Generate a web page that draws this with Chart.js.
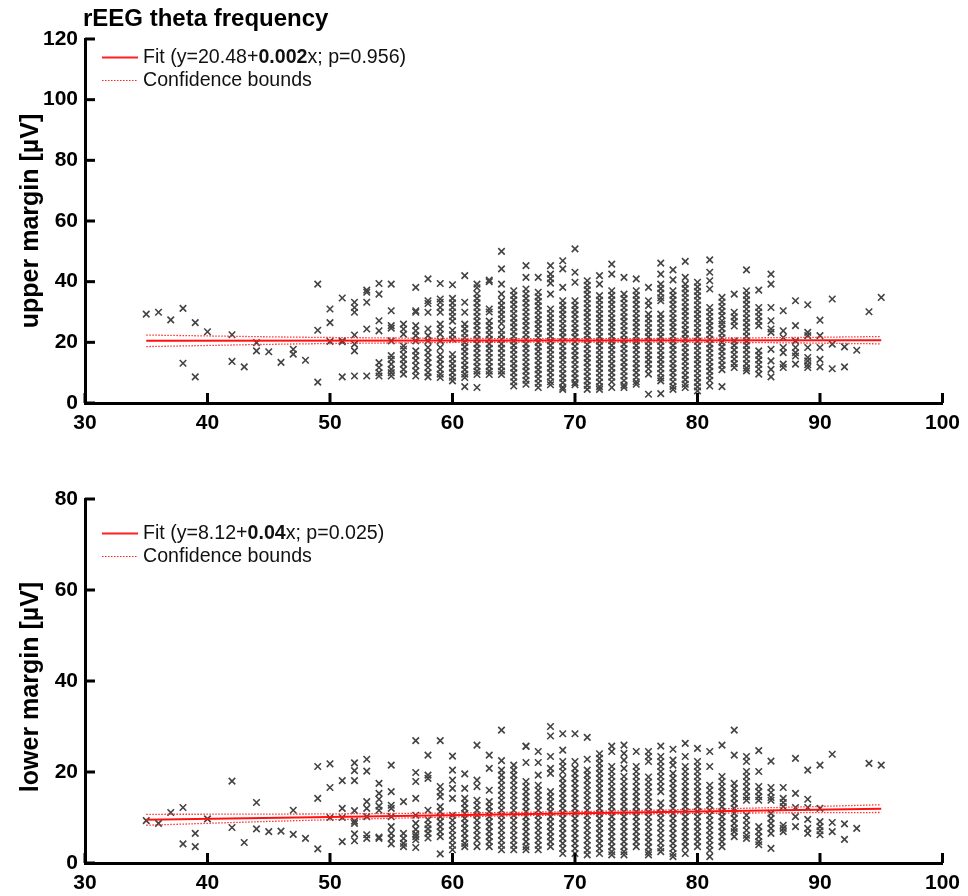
<!DOCTYPE html>
<html>
<head>
<meta charset="utf-8">
<script src="https://cdn.jsdelivr.net/npm/chart.js@4.4.1/dist/chart.umd.min.js"></script>
<style>
  html, body { margin: 0; padding: 0; background: #fff; }
  #wrap { position: relative; width: 968px; height: 896px; }
  canvas { position: absolute; left: 0; }
  #upperChart { top: 0; }
  #lowerChart { top: 440px; }
</style>
</head>
<body>
<div id="wrap">
  <canvas id="upperChart" width="968" height="440"></canvas>
  <canvas id="lowerChart" width="968" height="456"></canvas>
</div>
<script>
// ages on the x axis (one column of markers per age)
const ages = [35, 36, 37, 38, 39, 40, 41, 42, 43, 44, 45, 46, 47, 48, 49, 50, 51, 52, 53, 54,
  55, 56, 57, 58, 59, 60, 61, 62, 63, 64, 65, 66, 67, 68, 69, 70, 71, 72, 73, 74,
  75, 76, 77, 78, 79, 80, 81, 82, 83, 84, 85, 86, 87, 88, 89, 90, 91, 92, 93, 94, 95];

// upper margin [µV], one list per age
const upperMargin = [
  [29.3], [29.9], [27.4], [31.2, 13.1], [26.5, 8.6], [23.5], [], [22.5, 13.7], [11.9], [19.9, 17.2],
  [16.9], [13.4], [17.7, 16.1], [14.1], [39.2, 24, 6.9], [31, 26.5, 20.3], [34.6, 20.5, 20.2, 8.6],
  [33.2, 31.5, 29.9, 22.4, 19.4, 17.2, 8.9],
  [37.2, 36.5, 33.2, 24.4, 8.9],
  [39.4, 35.9, 27.1, 23.8, 13.3, 11.7, 10, 8.9],
  [39.2, 30.4, 25.5, 24.7, 20.5, 15.6, 14.4, 12.8, 11.1, 10, 8.9],
  [26, 24.4, 22.7, 18.8, 17.7, 16, 14.4, 12.8, 11.1, 9.5],
  [38.1, 30.4, 29.9, 25.5, 23.8, 22.2, 20.5, 17.2, 15.6, 14, 12.3, 10.6, 8.9],
  [40.9, 33.7, 32.8, 29.9, 24.4, 22.2, 20.5, 18.3, 16.6, 14.9, 13.3, 11.7, 10, 8.6],
  [39.4, 34.3, 33.2, 31.5, 29.9, 26, 24.4, 22.7, 20.5, 18.3, 16, 14.4, 12.8, 11.1, 9.5, 8.4],
  [39, 34.5, 33, 31.5, 30, 28.5, 27, 24, 22.5, 21, 16, 14.5, 13, 11.5, 10, 8.5, 7.3],
  [42, 33.2, 29.9, 26, 24.5, 23, 21.5, 20, 18.5, 17, 15.5, 14, 12.5, 11, 9.5, 8.4, 5.4],
  [39.2, 38, 36, 34.5, 33, 31.5, 30, 28.5, 27, 25.5, 24, 22.5, 21, 19.5, 18, 16.5, 15, 13.5, 12, 10.5, 9.4, 5.1],
  [40.5, 40, 31, 30, 27, 25.5, 24, 22.5, 21, 19.5, 18, 16.5, 15, 13.5, 12, 10.5, 9.4],
  [50, 44.2, 39.2, 35.9, 33.7, 32.2, 30.7, 29.2, 27.7, 26.2, 24, 22.5, 21, 19.5, 18, 16.5, 15, 13.5, 12, 10.5, 9.4],
  [37, 35.5, 34, 32.5, 31, 29.5, 28, 26.5, 25, 23.5, 22, 20.5, 19, 17.5, 16, 14.5, 13, 11.5, 10, 8.5, 7, 5.6],
  [45.3, 41.4, 37.6, 36, 34.5, 33, 31.5, 30, 28.5, 27, 25.5, 24, 22.5, 21, 19.5, 18, 16.5, 15, 13.5, 12, 10.5, 9, 7.5, 6.2],
  [41.4, 36.5, 35, 33.5, 32, 30.5, 29, 27.5, 26, 24.5, 23, 21.5, 20, 18.5, 17, 15.5, 14, 12.5, 11, 9.5, 8, 6.5, 5.1],
  [45.3, 42.5, 41, 39.5, 35.9, 31, 29.5, 28, 26.5, 25, 23.5, 22, 20.5, 19, 17.5, 16, 14.5, 13, 11.5, 10, 8.5, 7, 6],
  [46.9, 44.2, 38.1, 33.7, 32.2, 30.7, 29.2, 27.7, 26.2, 24.7, 23.2, 21.7, 20.2, 18.7, 17.2, 15.7, 14.2, 12.7, 11.2, 9.7, 8.2, 6.7, 5.2, 4.5],
  [50.8, 43.1, 39.8, 33.7, 32.2, 30.7, 29.2, 27.7, 26.2, 24.7, 23.2, 21.7, 20.2, 18.7, 17.2, 15.7, 14.2, 12.7, 11.2, 9.7, 8.2, 6.7, 6],
  [40.3, 38.8, 37.3, 35.8, 34.3, 32.8, 31.3, 29.8, 28.3, 26.8, 25.3, 23.8, 22.3, 20.8, 19.3, 17.8, 16.3, 14.8, 13.3, 11.8, 10.3, 8.8, 7.3, 5.8, 4.5],
  [42, 39.2, 35.4, 33.9, 32.4, 30.9, 29.4, 27.9, 26.4, 24.9, 23.4, 21.9, 20.4, 18.9, 17.4, 15.9, 14.4, 12.9, 11.4, 9.9, 8.4, 6.9, 5.4, 4.5],
  [45.8, 42.5, 37, 35.5, 34, 32.5, 31, 29.5, 28, 26.5, 25, 23.5, 22, 20.5, 19, 17.5, 16, 14.5, 13, 11.5, 10, 8.5, 7, 5.1],
  [41.4, 35.9, 34.4, 32.9, 31.4, 29.9, 28.4, 26.9, 25.4, 23.9, 22.4, 20.9, 19.4, 17.9, 16.4, 14.9, 13.4, 11.9, 10.4, 8.9, 7.4, 5.9, 5.1],
  [40.9, 37, 35.5, 34, 32.5, 31, 29.5, 28, 26.5, 25, 23.5, 22, 20.5, 19, 17.5, 16, 14.5, 13, 11.5, 10, 8.5, 7, 6.2],
  [38.1, 33.7, 32.1, 29.3, 27.8, 26.3, 24.8, 23.3, 21.8, 20.3, 18.8, 17.3, 15.8, 14.3, 12.8, 11.3, 9.5, 2.9],
  [46.1, 42.5, 39.2, 37.7, 36.2, 34.7, 33.7, 29.3, 27.8, 26.3, 24.8, 23.3, 21.8, 20.3, 18.8, 17.3, 15.8, 14.3, 12.8, 11.3, 9.8, 8.3, 7.3, 3.1],
  [43.9, 40.6, 37, 35.5, 34, 32.5, 31, 29.5, 28, 26.5, 25, 23.5, 22, 20.5, 19, 17.5, 16, 14.5, 13, 11.5, 10, 8.5, 7, 5.5, 4.5],
  [46.7, 41.4, 39.2, 37.7, 36.2, 34.7, 33.2, 31.7, 30.2, 28.7, 27.2, 25.7, 24.2, 22.7, 21.2, 19.7, 18.2, 16.7, 15.2, 13.7, 12.2, 10.7, 9.2, 7.7, 6.2, 5.1],
  [39.8, 38.3, 36.8, 35.3, 33.8, 32.3, 30.8, 29.3, 27.8, 26.3, 24.8, 23.3, 21.8, 20.3, 18.8, 17.3, 15.8, 14.3, 12.8, 11.3, 9.8, 8.3, 6.8, 5.3, 4],
  [47.2, 43.1, 40.3, 37.6, 31.5, 30, 28.5, 27, 25.5, 24, 22.5, 21, 19.5, 18, 16.5, 15, 13.5, 12, 10.5, 9, 7.5, 5.6],
  [34.8, 33.3, 31.8, 30.3, 28.8, 27.1, 26, 24.5, 23, 21.5, 20, 18.5, 17, 15.5, 14, 12.5, 11, 5.4],
  [35.9, 29.9, 28.4, 26.9, 25.4, 20.5, 19, 17.5, 16, 14.5, 13, 11.7],
  [43.9, 37, 35.5, 34, 32.5, 31, 29.5, 28, 26.5, 25, 23.5, 22, 20.5, 19, 17.5, 16, 14.5, 13, 11.5, 10.6],
  [37.2, 31.5, 30, 28.5, 27, 25.5, 17.2, 15.7, 14.2, 12.7, 11.2, 9.5],
  [42.5, 39.2, 31.5, 27.1, 24.4, 23.3, 17.7, 13.9, 11.1, 8.6],
  [30.4, 23.8, 21.6, 18.3, 16.6, 12.8, 11.7],
  [33.7, 25.5, 20.5, 18.3, 16.6, 15.5, 12.8],
  [32.4, 23.3, 22.2, 18.3, 15, 13.9, 12.6, 11.7],
  [27.3, 22.2, 18.3, 14.4, 11.9],
  [34.3, 19.4, 11.3], [18.5, 11.9], [17.4], [30.1], [34.8]
];

// lower margin [µV], one list per age
const lowerMargin = [
  [9.3], [8.7], [11.1], [12.2, 4.2], [6.5, 3.6], [9.7], [], [18, 7.8], [4.5], [13.3, 7.5],
  [6.9], [7], [11.6, 6.3], [5.4], [21.2, 14.2, 3.1], [21.8, 16.6, 10], [18.1, 12, 10, 4.7],
  [22, 20.3, 18.1, 11.5, 9.2, 8.7, 6.4, 4.9],
  [22.8, 20.2, 13.5, 12, 10.2, 6.2, 5.4],
  [17.5, 15.3, 14, 12.5, 11.6, 5.7, 5.4],
  [21.5, 15.7, 12.7, 12, 10.2, 8, 6.5, 5.4, 4.2],
  [13.5, 6.5, 5.4, 4.3, 3.6],
  [26.9, 19.9, 17.9, 14.2, 10.5, 8.7, 7.4, 6.4, 5.8, 5.1, 3.4],
  [23.7, 19.3, 18.6, 11.6, 9.5, 8.4, 7.5, 6.5, 5.5],
  [26.9, 16.8, 15.6, 14.6, 12.4, 11.3, 10.2, 9.1, 8, 6.9, 5.8, 2],
  [23.5, 20.4, 18.2, 16.4, 14.2, 10.5, 9.4, 8.3, 7.2, 6.1, 5, 3.9, 2.9],
  [19.6, 16.4, 14.2, 13.1, 12, 10.9, 9.8, 8.7, 7.6, 6.5, 5.4, 4.3, 3.6],
  [25.9, 18.2, 16.8, 13.8, 12.7, 11.6, 10.5, 9.4, 8.3, 7.2, 6.1, 5, 3.6],
  [23.7, 20.8, 16, 13.5, 12.4, 11.3, 10.2, 9.1, 8, 6.9, 5.8, 4.7, 3.6],
  [29.2, 22.5, 20.4, 19.3, 18.2, 17.1, 16, 14.9, 13.8, 12.7, 11.6, 10.5, 9.4, 8.3, 7.2, 6.1, 5, 3.9, 2.9],
  [21.5, 20.4, 19.3, 18.2, 17.1, 16, 14.9, 13.8, 12.7, 11.6, 10.5, 9.4, 8.3, 7.2, 6.1, 5, 3.9, 2.9],
  [25.7, 25.6, 22.1, 17.9, 16.8, 15.7, 14.6, 13.5, 12.4, 11.3, 10.2, 9.1, 8, 6.9, 5.8, 4.7, 3.6, 2.9],
  [24.5, 22.1, 19.3, 17.1, 16, 14.9, 13.8, 12.7, 11.6, 10.5, 9.4, 8.3, 7.2, 6.1, 5, 3.9, 2.9],
  [30, 27.9, 23.4, 20.8, 19.7, 15.7, 14.6, 13.5, 12.4, 11.3, 10.2, 9.1, 8, 6.9, 5.8, 4.7, 3.6],
  [28.4, 24.8, 22.3, 21.2, 20.1, 18.6, 17.5, 16.4, 15.3, 14.2, 13.1, 12, 10.9, 9.8, 8.7, 7.6, 6.5, 5.4, 4.3, 3.2, 2.1],
  [28.4, 22.3, 20.8, 19.7, 18.6, 17.5, 16.4, 15.3, 14.2, 13.1, 12, 10.9, 9.8, 8.7, 7.6, 6.5, 5.4, 4.3, 3.2, 2.1],
  [27.6, 22.8, 20.4, 19.3, 18.2, 17.1, 16, 14.9, 13.8, 12.7, 11.6, 10.5, 9.4, 8.3, 7.2, 6.1, 5, 3.9, 2.8, 1.8],
  [24, 23, 21.9, 20.8, 19.7, 18.6, 17.5, 16.4, 15.3, 14.2, 13.1, 12, 10.9, 9.8, 8.7, 7.6, 6.5, 5.4, 4.3, 3.2, 2.1],
  [25.7, 24.5, 21.2, 20.1, 19, 17.9, 16.8, 15.7, 14.6, 13.5, 12.4, 11.3, 10.2, 9.1, 8, 6.9, 5.8, 4.7, 3.6, 2.5, 1.8],
  [25.9, 24.1, 22.6, 20.8, 19, 17.9, 16.8, 15.7, 14.6, 13.5, 12.4, 11.3, 10.2, 9.1, 8, 6.9, 5.8, 4.7, 3.6, 2.5, 1.8],
  [24.5, 21.2, 20.1, 19, 17.9, 16.8, 15.7, 14.6, 13.5, 12.4, 11.3, 10.2, 9.1, 8, 6.9, 5.8, 4.7, 3.6],
  [24.5, 23.4, 22.3, 18.9, 17.8, 16.7, 15.6, 14.5, 13.4, 12.3, 11.2, 10.1, 9, 7.9, 6.8, 5.7, 4.6, 3.5, 2.4, 1.8],
  [25.7, 23.4, 22.3, 21.2, 20.1, 19, 17.9, 16.8, 15.7, 13.2, 12.1, 11, 9.9, 8.8, 7.7, 6.6, 5.5, 4.4, 3.3, 2.5],
  [25, 22.6, 21.5, 19.7, 18.6, 17.5, 16.4, 15.3, 14.2, 13.1, 12, 10.9, 9.8, 8.7, 7.6, 6.5, 5.4, 4.3, 3.2, 2.1, 1.4],
  [26.3, 23.4, 21.2, 20.1, 19, 17.9, 16.8, 15.7, 14.6, 13.5, 12.4, 11.3, 10.2, 9.1, 8, 6.9, 5.8, 4.7, 3.6, 2.1],
  [25.2, 22.3, 21.2, 20.1, 19, 17.9, 16.8, 15.7, 14.6, 13.5, 12.4, 11.3, 10.2, 9.1, 8, 6.9, 5.8, 4.7, 3.6],
  [24.5, 21.2, 17.1, 16, 14.9, 13.8, 12.7, 11.6, 10.5, 9.4, 8.3, 7.2, 6.1, 5, 3.9, 2.8, 1.4],
  [25.9, 19, 17.9, 16.8, 15.7, 14.6, 13.5, 12.4, 11.3, 10.2, 9.1, 8, 6.9, 5.8, 4.7, 3.6],
  [29.2, 23.7, 17.5, 16.4, 15.3, 14.2, 13.1, 12, 10.9, 9.8, 8.7, 7.6, 6.9, 5.8],
  [23.4, 22.3, 20.1, 19, 17.9, 16.8, 15.7, 14.6, 13.8, 10.5, 9.4, 8.3, 7.2, 6.1, 5.4],
  [24.7, 20.1, 16.8, 15.7, 14.6, 13.8, 8, 6.9, 5.8, 4.7, 4],
  [22.4, 16.6, 15.5, 14.4, 13.8, 10.9, 9.8, 8.7, 7.6, 6.5, 3.2],
  [16.6, 14.2, 13.3, 12.4, 8.3, 7.6, 6.9],
  [23, 15.3, 12.2, 10.2, 8],
  [20.4, 14, 12.2, 9.6, 7.6, 6.5],
  [21.5, 12, 9.1, 8, 7.1, 6.2],
  [23.9, 8.9, 6.9], [8.6, 5.2], [7.6], [21.9], [21.5]
];

// fitted lines and confidence bounds
const fitAges = [35, 95];
const upperFit = [20.55, 20.67];
const lowerFit = [9.52, 11.92];
const boundAges = [35, 50, 70, 85, 95];
const upperHi = [22.4, 21.6, 21.2, 21.5, 21.9];
const upperLo = [18.6, 19.6, 20.1, 19.9, 19.5];
const lowerHi = [10.7, 10.8, 11.3, 12.1, 12.8];
const lowerLo = [8.3, 9.5, 10.6, 11.0, 11.1];

const FONT = '"Liberation Sans", Arial, Helvetica, sans-serif';

function pairs(xs, ys) {
  return xs.map((x, i) => ({ x: x, y: ys[i] }));
}

function columnPoints(cols) {
  return ages.flatMap((a, i) => cols[i].map(v => ({ x: a, y: v })));
}

// draws inward ticks, title, y label and legend (with bold slope)
function decor(opts) {
  return {
    id: 'decor',
    afterDraw(chart) {
      const ctx = chart.ctx;
      const area = chart.chartArea;
      const xs = chart.scales.x;
      const ys = chart.scales.y;
      ctx.save();
      ctx.strokeStyle = '#000';
      ctx.lineWidth = 3;
      xs.ticks.forEach(t => {
        const px = xs.getPixelForValue(t.value);
        ctx.beginPath();
        ctx.moveTo(px, area.bottom);
        ctx.lineTo(px, area.bottom - 10);
        ctx.stroke();
      });
      ys.ticks.forEach(t => {
        const py = ys.getPixelForValue(t.value);
        ctx.beginPath();
        ctx.moveTo(area.left, py);
        ctx.lineTo(area.left + 10, py);
        ctx.stroke();
      });

      ctx.fillStyle = '#000';
      if (opts.title) {
        ctx.font = 'bold 24px ' + FONT;
        ctx.textAlign = 'left';
        ctx.textBaseline = 'middle';
        ctx.fillText(opts.title, 83, 19);
      }

      ctx.save();
      ctx.translate(31, (area.top + area.bottom) / 2 + opts.labelShift);
      ctx.rotate(-Math.PI / 2);
      ctx.font = 'bold 25px ' + FONT;
      ctx.textAlign = 'center';
      ctx.textBaseline = 'middle';
      ctx.fillText(opts.yLabel, 0, 0);
      ctx.restore();

      // legend
      const y1 = opts.legendY, y2 = opts.legendY + 23;
      ctx.strokeStyle = '#ff2020';
      ctx.lineWidth = 1.8;
      ctx.beginPath(); ctx.moveTo(102, y1); ctx.lineTo(138, y1); ctx.stroke();
      ctx.lineWidth = 1.2;
      ctx.setLineDash([1.5, 1.5]);
      ctx.beginPath(); ctx.moveTo(102, y2); ctx.lineTo(138, y2); ctx.stroke();
      ctx.setLineDash([]);
      ctx.fillStyle = '#111';
      ctx.textAlign = 'left';
      ctx.textBaseline = 'middle';
      let tx = 143;
      opts.fitText.forEach(seg => {
        ctx.font = (seg[1] ? 'bold ' : '') + '19.6px ' + FONT;
        ctx.fillText(seg[0], tx, y1);
        tx += ctx.measureText(seg[0]).width;
      });
      ctx.font = '19.6px ' + FONT;
      ctx.fillText('Confidence bounds', 143, y2);
      ctx.restore();
    }
  };
}

function buildChart(id, cfg) {
  const tickFont = { family: FONT, size: 21, weight: 'bold' };
  return new Chart(document.getElementById(id), {
    type: 'scatter',
    data: {
      datasets: [
        {
          data: pairs(fitAges, cfg.fit), showLine: true, pointRadius: 0,
          borderColor: '#ff1010', borderWidth: 2
        },
        {
          data: pairs(boundAges, cfg.hi), showLine: true, pointRadius: 0, tension: 0.4,
          borderColor: '#ff3030', borderWidth: 1.3, borderDash: [1.5, 1.5]
        },
        {
          data: pairs(boundAges, cfg.lo), showLine: true, pointRadius: 0, tension: 0.4,
          borderColor: '#ff3030', borderWidth: 1.3, borderDash: [1.5, 1.5]
        },
        {
          data: columnPoints(cfg.cols),
          pointStyle: 'crossRot', pointRadius: 4.6, borderWidth: 1.6,
          borderColor: '#444444', backgroundColor: 'rgba(0,0,0,0)'
        }
      ]
    },
    options: {
      responsive: false,
      animation: false,
      devicePixelRatio: 1,
      events: [],
      layout: { padding: { top: cfg.padTop, right: 22, left: 0, bottom: 0 } },
      plugins: { legend: { display: false }, tooltip: { enabled: false } },
      scales: {
        x: {
          type: 'linear', min: 30, max: 100,
          grid: { display: false, drawTicks: false },
          border: { display: true, color: '#000', width: 3 },
          ticks: { stepSize: 10, color: '#000', font: tickFont, padding: 8 },
          afterFit(scale) { scale.height = cfg.xHeight; }
        },
        y: {
          min: 0, max: cfg.yMax,
          grid: { display: false, drawTicks: false },
          border: { display: true, color: '#000', width: 3 },
          ticks: { stepSize: 20, color: '#000', font: tickFont, padding: 7 },
          afterFit(scale) { scale.width = 85; }
        }
      }
    },
    plugins: [decor(cfg.decor)]
  });
}

buildChart('upperChart', {
  cols: upperMargin, fit: upperFit, hi: upperHi, lo: upperLo,
  yMax: 120, padTop: 39, xHeight: 37,
  decor: {
    title: 'rEEG theta frequency',
    yLabel: 'upper margin [µV]',
    labelShift: 0,
    legendY: 57.5,
    fitText: [['Fit (y=20.48+', false], ['0.002', true], ['x; p=0.956)', false]]
  }
});

buildChart('lowerChart', {
  cols: lowerMargin, fit: lowerFit, hi: lowerHi, lo: lowerLo,
  yMax: 80, padTop: 59, xHeight: 33,
  decor: {
    yLabel: 'lower margin [µV]',
    labelShift: 6,
    legendY: 93.5,
    fitText: [['Fit (y=8.12+', false], ['0.04', true], ['x; p=0.025)', false]]
  }
});
</script>
</body>
</html>
